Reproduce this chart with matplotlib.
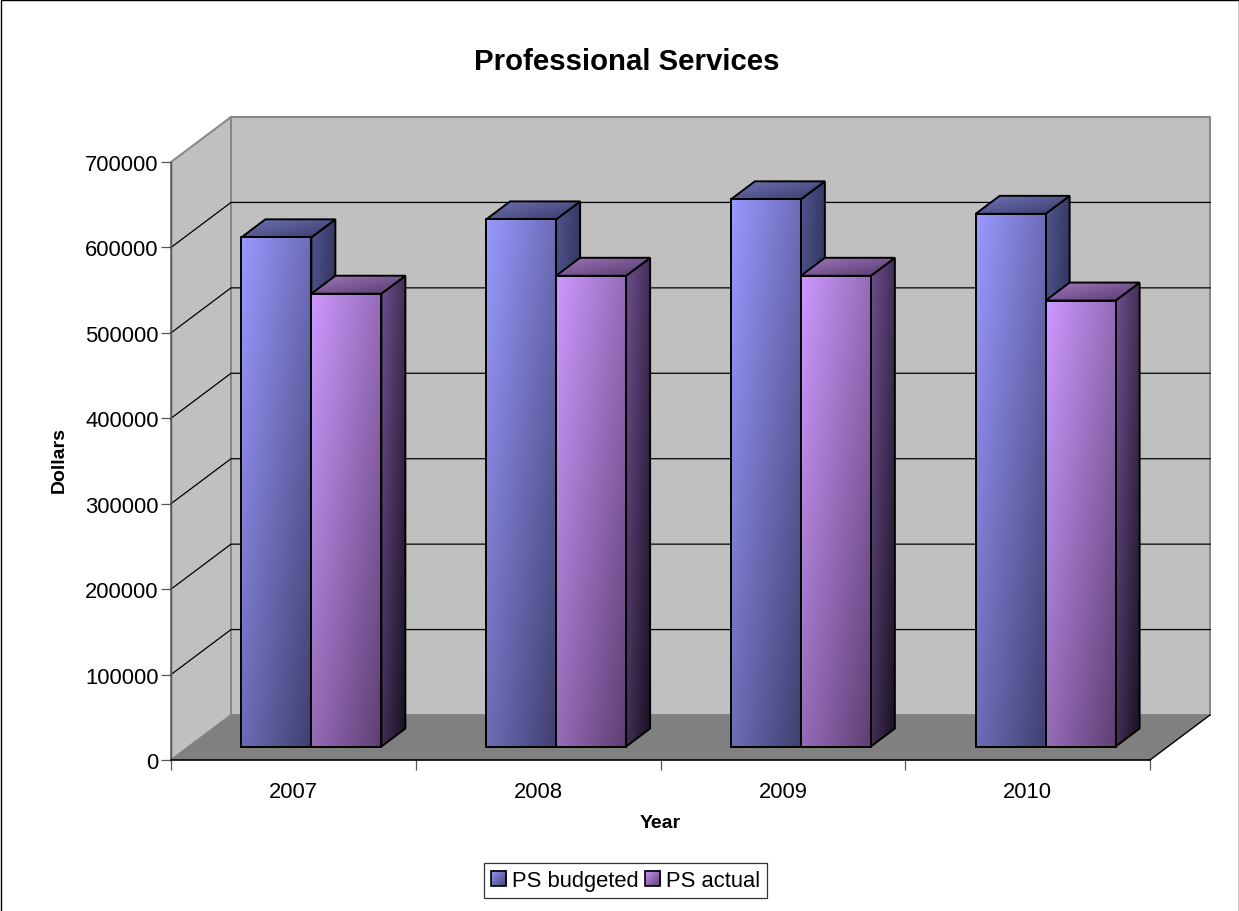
import numpy as np
import matplotlib
matplotlib.use("Agg")
import matplotlib.pyplot as plt
from matplotlib.colors import to_rgb
from matplotlib.image import BboxImage
from matplotlib.legend_handler import HandlerPatch
from matplotlib.patches import Patch, Polygon, Rectangle
from matplotlib.transforms import Bbox, TransformedBbox

plt.rcParams["font.family"] = ["Liberation Sans", "DejaVu Sans"]

# Data
years = ["2007", "2008", "2009", "2010"]
ps_budgeted = [596000, 617000, 640500, 623500]
ps_actual = [530000, 551000, 551000, 522000]
series_names = ["PS budgeted", "PS actual"]
y_ticks = [0, 100000, 200000, 300000, 400000, 500000, 600000, 700000]

# Oblique projection of the 3D box, in axis units per unit of depth
W, H = 1239, 912
LEFT, RIGHT, BOTTOM, TOP = 171, 1150, 761, 163
YMAX = 700000
DEPTH_X = 60 / ((RIGHT - LEFT) / 4)
DEPTH_Y = 45 / ((BOTTOM - TOP) / YMAX)
BAR_W = 0.286
GAP = (1 - 2 * BAR_W) / 2
BAR_D0, BAR_D1 = 0.3, 0.7

FACE_COLORS = {
    "budgeted": {"front": ("#9999FF", "#404070"),
                 "top": ("#7074B8", "#3A3A68"),
                 "side": ("#50568E", "#1E1E3C")},
    "actual": {"front": ("#CC99FF", "#5F3F72"),
               "top": ("#A078BE", "#55386A"),
               "side": ("#6F4F8F", "#181020")},
}


def proj(x, v, d):
    return (x + d * DEPTH_X, v + d * DEPTH_Y)


def gradient(c0, c1, n=64):
    u, v = np.meshgrid(np.linspace(0, 1, n), np.linspace(0, 1, n))
    t = ((u + v) / 2)[..., None]
    return (1 - t) * np.array(to_rgb(c0)) + t * np.array(to_rgb(c1))


def shaded_face(ax, pts, colors, z):
    pts = np.array(pts)
    xs, ys = pts[:, 0], pts[:, 1]
    outline = Polygon(pts, closed=True, facecolor="none", edgecolor="black",
                      linewidth=1.4, joinstyle="miter", clip_on=False, zorder=z + 0.1)
    ax.add_patch(outline)
    # row 0 at the top of the extent, so the light corner is upper left
    img = ax.imshow(gradient(*colors), extent=(xs.min(), xs.max(), ys.min(), ys.max()),
                    origin="upper", aspect="auto", interpolation="bilinear", zorder=z)
    clip = Polygon(pts, closed=True, transform=ax.transData)
    img.set_clip_path(clip)


def draw_bar(ax, x0, value, colors, z):
    x1 = x0 + BAR_W
    side = [proj(x1, 0, BAR_D0), proj(x1, value, BAR_D0),
            proj(x1, value, BAR_D1), proj(x1, 0, BAR_D1)]
    top = [proj(x0, value, BAR_D0), proj(x0, value, BAR_D1),
           proj(x1, value, BAR_D1), proj(x1, value, BAR_D0)]
    front = [proj(x0, 0, BAR_D0), proj(x0, value, BAR_D0),
             proj(x1, value, BAR_D0), proj(x1, 0, BAR_D0)]
    shaded_face(ax, side, colors["side"], z)
    shaded_face(ax, top, colors["top"], z + 0.2)
    shaded_face(ax, front, colors["front"], z + 0.4)


class GradientSwatch(HandlerPatch):
    """Legend key drawn as a small gradient square with a black edge."""

    def create_artists(self, legend, orig_handle, xd, yd, width, height, fontsize, trans):
        side = height
        x, y = -xd + (width - side) / 2, -yd
        box = TransformedBbox(Bbox.from_bounds(x, y, side, side), trans)
        img = BboxImage(box, interpolation="bilinear")
        img.set_data(gradient(*orig_handle.get_gid().split("|")))
        edge = Rectangle((x, y), side, side, facecolor="none", edgecolor="black",
                         linewidth=1.2, transform=trans)
        return [img, edge]


fig = plt.figure(figsize=(W / 100, H / 100), dpi=100, facecolor="white")
ax = fig.add_axes([LEFT / W, 1 - BOTTOM / H, (RIGHT - LEFT) / W, (BOTTOM - TOP) / H])
ax.patch.set_visible(False)

# Walls and floor
wall_c, floor_c, edge_c = "#C0C0C0", "#808080", "#868686"
ax.add_patch(Polygon([proj(0, 0, 0), proj(0, YMAX, 0), proj(0, YMAX, 1), proj(0, 0, 1)],
                     facecolor=wall_c, edgecolor=edge_c, linewidth=1.4, clip_on=False, zorder=1))
ax.add_patch(Polygon([proj(0, 0, 1), proj(0, YMAX, 1), proj(4, YMAX, 1), proj(4, 0, 1)],
                     facecolor=wall_c, edgecolor=edge_c, linewidth=1.4, clip_on=False, zorder=1))
ax.add_patch(Polygon([proj(0, 0, 0), proj(0, 0, 1), proj(4, 0, 1), proj(4, 0, 0)],
                     facecolor=floor_c, edgecolor="none", clip_on=False, zorder=1.5))
ax.plot(*zip(proj(4, 0, 0), proj(4, 0, 1)), color="black", lw=1.0, clip_on=False, zorder=1.6)

# Gridlines run across the side wall and along the back wall
for v in y_ticks[1:-1]:
    ax.plot(*zip(proj(0, v, 0), proj(0, v, 1), proj(4, v, 1)),
            color="black", lw=0.9, clip_on=False, zorder=2)

# Bars
for i in range(len(years)):
    x0 = i + GAP
    draw_bar(ax, x0, ps_budgeted[i], FACE_COLORS["budgeted"], 3 + i)
    draw_bar(ax, x0 + BAR_W, ps_actual[i], FACE_COLORS["actual"], 3.5 + i)

ax.set_xlim(0, 4)
ax.set_ylim(0, YMAX)

# Axes
for name in ("top", "right"):
    ax.spines[name].set_visible(False)
ax.spines["left"].set_color("#555555")
ax.spines["bottom"].set_color("black")
ax.spines["left"].set_linewidth(1.0)
ax.spines["bottom"].set_linewidth(1.2)
ax.spines["left"].set_zorder(2.5)
ax.spines["bottom"].set_zorder(2.5)
ax.set_yticks(y_ticks)
ax.set_yticklabels([str(v) for v in y_ticks])
ax.set_xticks(range(5))
ax.set_xticklabels([""] * 5)
ax.set_xticks(np.arange(len(years)) + 0.5, labels=years, minor=True)
ax.tick_params(axis="both", which="major", length=7.5, width=0.9, color="#555555",
               direction="out", labelsize=15.8, pad=1.5)
ax.tick_params(axis="x", which="minor", length=0, labelsize=15.8, pad=15)

fig.text(626.5 / W, 1 - 62 / H, "Professional Services", ha="center", va="center",
         fontsize=21.2, fontweight="bold")
fig.text(59 / W, 1 - 460 / H, "Dollars", ha="center", va="center", rotation=90,
         fontsize=14, fontweight="bold")
fig.text(660 / W, 1 - 824 / H, "Year", ha="center", va="center",
         fontsize=14, fontweight="bold")

# Legend
handles = [Patch(gid="|".join(FACE_COLORS["budgeted"]["front"])),
           Patch(gid="|".join(FACE_COLORS["actual"]["front"]))]
leg = fig.legend(handles, series_names, loc="center", bbox_to_anchor=(625.5 / W, 1 - 881.5 / H),
                 ncol=2, fontsize=15.8, frameon=True, fancybox=False, framealpha=1,
                 edgecolor="#333333", borderpad=0.3, handlelength=0.7, handleheight=0.68,
                 handletextpad=0.25, columnspacing=0.3, borderaxespad=0,
                 handler_map={Patch: GradientSwatch()})
leg.get_frame().set_linewidth(0.9)

# Outer chart border
fig.add_artist(Rectangle((0.5 / W, -0.05), (W - 1) / W, 1.05 - 0.5 / H, transform=fig.transFigure,
                         facecolor="none", edgecolor="black", linewidth=1.0))

fig.savefig("out.png", dpi=100)
